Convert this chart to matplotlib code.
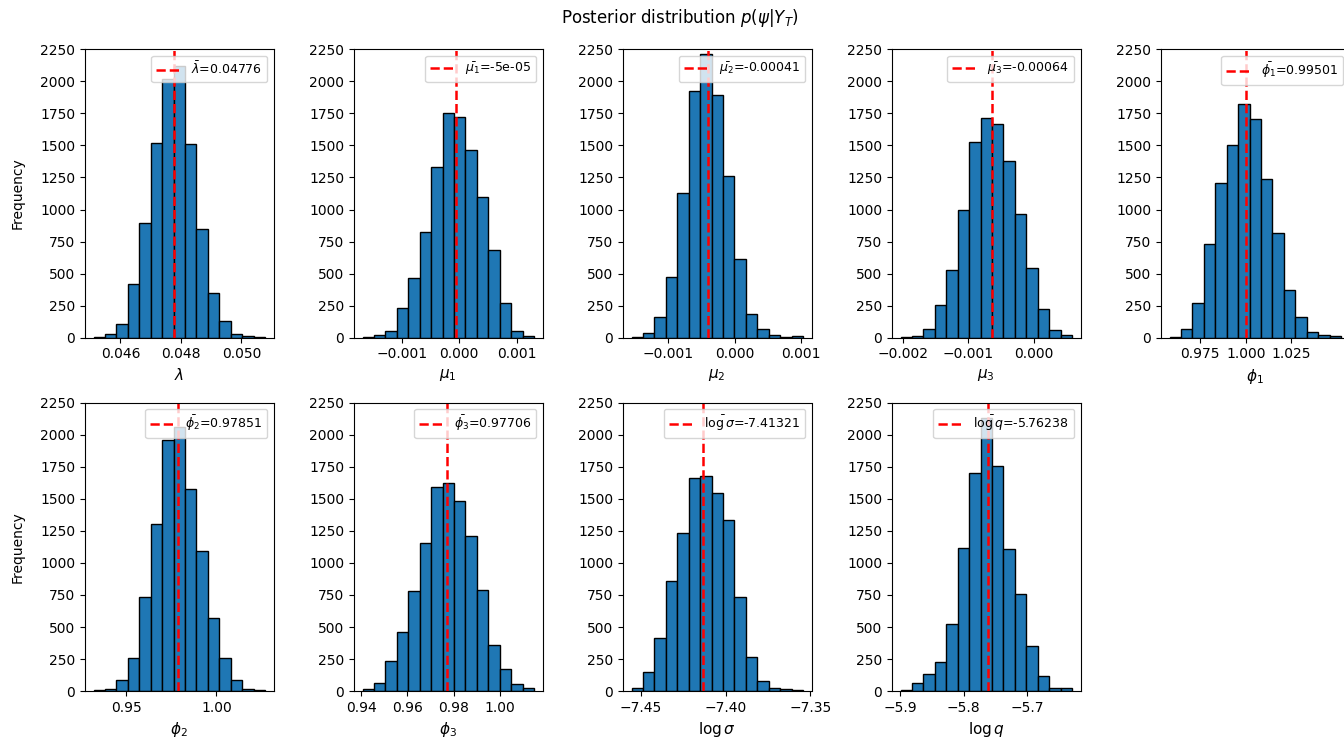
import numpy as np
import matplotlib
matplotlib.use("Agg")
import matplotlib.pyplot as plt

# ---- data ----
names = [r'\lambda', r'\mu_1', r'\mu_2', r'\mu_3', r'\phi_1',
         r'\phi_2', r'\phi_3', r'\log\sigma', r'\log q']
mean_labels = ['0.04776', '-5e-05', '-0.00041', '-0.00064', '0.99501',
               '0.97851', '0.97706', '-7.41321', '-5.76238']
# x position of the dashed red line in each panel, as it appears
line_pos = [0.04776, -0.00005, -0.00041, -0.00064, 0.9999,
            0.97851, 0.97706, -7.41321, -5.76238]

lam_range = (0.04511, 0.05078)
lam_counts = [5, 26, 107, 419, 895, 1517, 2016, 2123, 1509, 848, 346, 133, 29, 10, 3]

mu1_range = (-0.001683, 0.001303)
mu1_counts = [5, 20, 52, 234, 468, 822, 1332, 1753, 1722, 1462, 1098, 684, 268, 52, 13]

mu2_range = (-0.001555, 0.001029)
mu2_counts = [3, 34, 161, 471, 1131, 1925, 2213, 1891, 1261, 614, 185, 70, 18, 2, 10]

mu3_range = (-0.002036, 0.000586)
mu3_counts = [3, 12, 70, 258, 528, 999, 1524, 1711, 1664, 1381, 962, 544, 221, 60, 18]

phi1_range = (0.95808, 1.05240)
phi1_counts = [5, 70, 268, 731, 1204, 1501, 1823, 1709, 1238, 820, 375, 161, 42, 21, 10]

phi2_range = (0.9320, 1.0268)
phi2_counts = [5, 20, 86, 255, 736, 1301, 1959, 2058, 1576, 1095, 567, 255, 86, 20, 5]

phi3_range = (0.94063, 1.01463)
phi3_counts = [13, 60, 234, 460, 780, 1155, 1590, 1623, 1480, 1210, 788, 359, 172, 55, 21]

lsig_range = (-7.45538, -7.3544)
lsig_counts = [26, 146, 411, 861, 1230, 1665, 1680, 1542, 1334, 736, 263, 81, 21, 13, 8]

lq_range = (-5.89928, -5.6298)
lq_counts = [8, 60, 130, 229, 520, 1120, 1703, 2128, 1756, 1106, 754, 354, 120, 21, 21]

ranges = [lam_range, mu1_range, mu2_range, mu3_range, phi1_range,
          phi2_range, phi3_range, lsig_range, lq_range]
counts = [lam_counts, mu1_counts, mu2_counts, mu3_counts, phi1_counts,
          phi2_counts, phi3_counts, lsig_counts, lq_counts]

xticks = [[0.046, 0.048, 0.050],
          [-0.001, 0.000, 0.001],
          [-0.001, 0.000, 0.001],
          [-0.002, -0.001, 0.000],
          [0.975, 1.000, 1.025],
          [0.95, 1.00],
          [0.94, 0.96, 0.98, 1.00],
          [-7.45, -7.40, -7.35],
          [-5.9, -5.8, -5.7]]
yticks = [0, 250, 500, 750, 1000, 1250, 1500, 1750, 2000, 2250]

# ---- figure ----
W, H = 1344, 738
fig = plt.figure(figsize=(W / 100, H / 100), dpi=100)

col_left = [85 + 269 * i for i in range(5)]
ax_w = 188.5
row_top = [49.3, 402.7]
ax_h = 288.4

for i in range(9):
    r, c = divmod(i, 5)
    rect = [col_left[c] / W, 1 - (row_top[r] + ax_h) / H, ax_w / W, ax_h / H]
    ax = fig.add_axes(rect)
    lo, hi = ranges[i]
    edges = np.linspace(lo, hi, len(counts[i]) + 1)
    centers = 0.5 * (edges[:-1] + edges[1:])
    ax.hist(centers, bins=edges, weights=counts[i], color='#1f77b4',
            edgecolor='black', linewidth=1.0)
    ax.axvline(line_pos[i], color='red', linestyle='--', linewidth=1.8,
               label=r'$\bar{%s}$=%s' % (names[i], mean_labels[i]))
    ax.set_ylim(0, 2250)
    ax.set_yticks(yticks)
    ax.set_xticks(xticks[i])
    ax.set_xlabel(r'$%s$' % names[i], fontsize=11)
    if c == 0:
        ax.set_ylabel('Frequency', fontsize=10, labelpad=11)
    ax.legend(loc='upper right', fontsize=9)

fig.text(680 / W, 1 - 18 / H, r'Posterior distribution $p(\psi|Y_T)$',
         ha='center', va='center', fontsize=12)

fig.savefig('out.png', dpi=100)
